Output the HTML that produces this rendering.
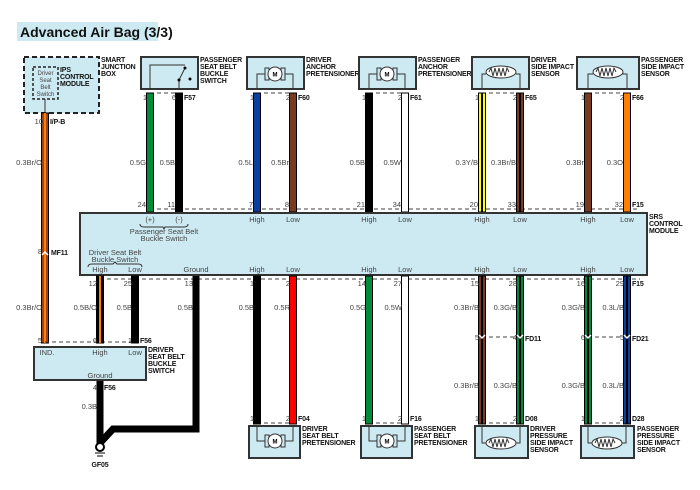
<!DOCTYPE html>
<html><head><meta charset="utf-8"><style>
html,body{margin:0;padding:0;background:#fff}
svg{display:block}
text{font-family:"Liberation Sans",sans-serif}
.s{font-size:7.5px;fill:#444}
.b{font-size:7px;font-weight:bold;fill:#111;letter-spacing:-0.15px}
.box{fill:#cdeaf2;stroke:#333;stroke-width:2}
.w{stroke:#000;stroke-width:1}
.d{stroke:#444;stroke-width:1;stroke-dasharray:4,3;fill:none}
.ln{stroke:#333;stroke-width:1;fill:none}
</style></head><body>
<svg width="700" height="490" viewBox="0 0 700 490" xmlns="http://www.w3.org/2000/svg">
<rect x="17" y="22" width="141" height="19" fill="#cdeaf2"/>
<text x="20" y="37" style="font-size:14px;font-weight:bold;fill:#111">Advanced Air Bag (3/3)</text>

<!-- Smart junction box -->
<rect x="24" y="57" width="75" height="56" fill="#cdeaf2" stroke="#222" stroke-width="2" stroke-dasharray="5,3"/>
<rect x="33" y="67" width="25" height="32" fill="none" stroke="#222" stroke-width="1.5" stroke-dasharray="3,2"/>
<text class="s" x="45.5" y="75" text-anchor="middle" style="font-size:6px">Driver</text>
<text class="s" x="45.5" y="82" text-anchor="middle" style="font-size:6px">Seat</text>
<text class="s" x="45.5" y="89" text-anchor="middle" style="font-size:6px">Belt</text>
<text class="s" x="45.5" y="96" text-anchor="middle" style="font-size:6px">Switch</text>
<text class="b" x="60" y="72">IPS</text><text class="b" x="60" y="79">CONTROL</text><text class="b" x="60" y="86">MODULE</text>
<text class="b" x="101" y="62">SMART</text><text class="b" x="101" y="69">JUNCTION</text><text class="b" x="101" y="76">BOX</text>
<path class="ln" d="M45 99 V113"/>

<!-- component boxes top -->
<rect class="box" x="141" y="57" width="57" height="32"/>
<path class="ln" d="M150 89 V65 H185 M179 89 V80 L185 68"/>
<circle cx="185" cy="68" r="1.5"/><circle cx="179" cy="80" r="1.5"/><circle cx="190" cy="79" r="1.5"/>
<text class="b" x="200" y="62">PASSENGER</text><text class="b" x="200" y="69">SEAT BELT</text><text class="b" x="200" y="76">BUCKLE</text><text class="b" x="200" y="83">SWITCH</text>

<g id="mot">
<rect class="box" x="247" y="57" width="57" height="32"/>
<path class="ln" d="M257 89 V74 H265 M293 89 V74 H285"/>
<rect x="265" y="68" width="4" height="12" fill="none" stroke="#333"/><rect x="281" y="68" width="4" height="12" fill="none" stroke="#333"/>
<circle cx="275" cy="74" r="7" fill="#fff" stroke="#333"/><text x="275" y="76.5" text-anchor="middle" style="font-size:6px;font-weight:bold">M</text>
</g>
<text class="b" x="306" y="62">DRIVER</text><text class="b" x="306" y="69">ANCHOR</text><text class="b" x="306" y="76">PRETENSIONER</text>
<use href="#mot" x="112" y="0"/>
<text class="b" x="418" y="62">PASSENGER</text><text class="b" x="418" y="69">ANCHOR</text><text class="b" x="418" y="76">PRETENSIONER</text>

<g id="sen">
<rect class="box" x="472" y="57" width="57" height="32"/>
<path class="ln" d="M482 89 V74 H486 M520 89 V74 H516"/>
<ellipse cx="501" cy="72" rx="15" ry="6" fill="#fff" stroke="#333"/>
<path class="ln" d="M489 72 l2 -4 l2 8 l2 -8 l2 8 l2 -8 l2 8 l2 -8 l2 8 l2 -8 l2 4"/>
</g>
<text class="b" x="531" y="62">DRIVER</text><text class="b" x="531" y="69">SIDE IMPACT</text><text class="b" x="531" y="76">SENSOR</text>
<rect class="box" x="577" y="57" width="62" height="32"/>
<path class="ln" d="M588 89 V74 H593 M627 89 V74 H622"/>
<ellipse cx="608" cy="72" rx="15" ry="6" fill="#fff" stroke="#333"/>
<path class="ln" d="M596 72 l2 -4 l2 8 l2 -8 l2 8 l2 -8 l2 8 l2 -8 l2 8 l2 -8 l2 4"/>
<text class="b" x="641" y="62">PASSENGER</text><text class="b" x="641" y="69">SIDE IMPACT</text><text class="b" x="641" y="76">SENSOR</text>

<!-- top dashed -->
<path class="d" d="M150 93 H179 M257 93 H293 M369 93 H405 M482 93 H520 M588 93 H627"/>
<path class="d" d="M150 209 H640"/>

<!-- top wires -->
<rect class="w" x="41.5" y="113" width="7" height="230" fill="#a0441a"/><rect x="44" y="113" width="2" height="230" fill="#ff7f00"/>
<rect class="w" x="146.5" y="93" width="7" height="119" fill="#008a3a"/>
<rect class="w" x="175.5" y="93" width="7" height="119" fill="#000"/>
<rect class="w" x="253.5" y="93" width="7" height="119" fill="#0a3fa0"/>
<rect class="w" x="289.5" y="93" width="7" height="119" fill="#7a3a22"/>
<rect class="w" x="365.5" y="93" width="7" height="119" fill="#000"/>
<rect class="w" x="401.5" y="93" width="7" height="119" fill="#fff"/>
<rect class="w" x="478.5" y="93" width="7" height="119" fill="#ffff00"/><rect x="481" y="93" width="2" height="119" fill="#000"/>
<rect class="w" x="516.5" y="93" width="7" height="119" fill="#7a3a22"/><rect x="519" y="93" width="2" height="119" fill="#000"/>
<rect class="w" x="584.5" y="93" width="7" height="119" fill="#7a3a22"/>
<rect class="w" x="623.5" y="93" width="7" height="119" fill="#ff7f00"/>

<!-- top pin labels -->
<g class="s" text-anchor="end">
<text x="43" y="124">10</text>
<text x="147" y="100">1</text><text x="176" y="100">6</text>
<text x="254" y="100">1</text><text x="290" y="100">2</text>
<text x="366" y="100">1</text><text x="402" y="100">2</text>
<text x="479" y="100">1</text><text x="517" y="100">2</text>
<text x="585" y="100">1</text><text x="624" y="100">2</text>
<text x="42" y="165">0.3Br/O</text>
<text x="146" y="165">0.5G</text><text x="175" y="165">0.5B</text>
<text x="253" y="165">0.5L</text><text x="289" y="165">0.5Br</text>
<text x="365" y="165">0.5B</text><text x="401" y="165">0.5W</text>
<text x="478" y="165">0.3Y/B</text><text x="516" y="165">0.3Br/B</text>
<text x="584" y="165">0.3Br</text><text x="623" y="165">0.3O</text>
<text x="146" y="207">24</text><text x="175" y="207">11</text>
<text x="253" y="207">7</text><text x="289" y="207">8</text>
<text x="365" y="207">21</text><text x="401" y="207">34</text>
<text x="478" y="207">20</text><text x="516" y="207">33</text>
<text x="584" y="207">19</text><text x="623" y="207">32</text>
</g>
<g class="b">
<text x="50" y="124">I/P-B</text><text x="184" y="100">F57</text><text x="298" y="100">F60</text><text x="410" y="100">F61</text>
<text x="525" y="100">F65</text><text x="632" y="100">F66</text><text x="632" y="207">F15</text>
</g>

<!-- SRS module -->
<rect class="box" x="80" y="213" width="567" height="62"/>
<text class="b" x="649" y="219">SRS</text><text class="b" x="649" y="226">CONTROL</text><text class="b" x="649" y="233">MODULE</text>
<g class="s" text-anchor="middle">
<text x="150" y="222">(+)</text><text x="179" y="222">(-)</text>
<text x="164" y="234">Passenger Seat Belt</text><text x="164" y="241">Buckle Switch</text>
<text x="257" y="222">High</text><text x="293" y="222">Low</text>
<text x="369" y="222">High</text><text x="405" y="222">Low</text>
<text x="482" y="222">High</text><text x="520" y="222">Low</text>
<text x="588" y="222">High</text><text x="627" y="222">Low</text>
<text x="115" y="255">Driver Seat Belt</text><text x="115" y="262">Buckle Switch</text>
<text x="100" y="272">High</text><text x="135" y="272">Low</text><text x="196" y="272">Ground</text>
<text x="257" y="272">High</text><text x="293" y="272">Low</text>
<text x="369" y="272">High</text><text x="405" y="272">Low</text>
<text x="482" y="272">High</text><text x="520" y="272">Low</text>
<text x="588" y="272">High</text><text x="627" y="272">Low</text>
</g>
<path class="ln" d="M140 224 q0 3 4 3 h19 l1 2 l1 -2 h19 q4 0 4 -3"/>
<path class="ln" d="M88 267 q0 -3 4 -3 h21 l2 -2 l2 2 h21 q4 0 4 3"/>

<!-- bottom dashed -->
<path class="d" d="M100 279 H640"/>
<path class="d" d="M45 342 H135"/>
<path class="d" d="M257 423 H293 M369 423 H405 M482 423 H520 M588 423 H627"/>
<path class="d" d="M482 337 H520 M588 337 H627"/>

<!-- bottom wires -->
<rect class="w" x="96.5" y="276" width="7" height="67" fill="#000"/><rect x="99" y="276" width="2" height="67" fill="#ff7f00"/>
<rect class="w" x="131.5" y="276" width="7" height="67" fill="#000"/>
<path d="M196 276 V429 H113 L100 443 V450 M100 380 V445" fill="none" stroke="#000" stroke-width="7"/>
<rect class="w" x="253.5" y="276" width="7" height="148" fill="#000"/>
<rect class="w" x="289.5" y="276" width="7" height="148" fill="#ff0000"/>
<rect class="w" x="365.5" y="276" width="7" height="148" fill="#008a3a"/>
<rect class="w" x="401.5" y="276" width="7" height="148" fill="#fff"/>
<rect class="w" x="478.5" y="276" width="7" height="148" fill="#7a3a22"/><rect x="481" y="276" width="2" height="148" fill="#000"/>
<rect class="w" x="516.5" y="276" width="7" height="148" fill="#008a3a"/><rect x="519" y="276" width="2" height="148" fill="#000"/>
<rect class="w" x="584.5" y="276" width="7" height="148" fill="#008a3a"/><rect x="587" y="276" width="2" height="148" fill="#000"/>
<rect class="w" x="623.5" y="276" width="7" height="148" fill="#0a3fa0"/><rect x="626" y="276" width="2" height="148" fill="#000"/>
<!-- connector chevrons -->
<g fill="none" stroke="#fff" stroke-width="1.5">
<path d="M479 335 l3 3 l3 -3 M517 335 l3 3 l3 -3 M585 335 l3 3 l3 -3 M624 335 l3 3 l3 -3 M42 255 l3 -3 l3 3"/>
</g>

<!-- ground -->
<circle cx="100" cy="447" r="4" fill="#fff" stroke="#000" stroke-width="2"/>
<path d="M95 453 H105 M97 456 H103" stroke="#000" stroke-width="1"/>
<text class="b" x="100" y="467" text-anchor="middle">GF05</text>

<!-- driver seat belt buckle switch -->
<rect class="box" x="34" y="347" width="112" height="33"/>
<g class="s" text-anchor="middle"><text x="47" y="355">IND.</text><text x="100" y="355">High</text><text x="135" y="355">Low</text><text x="100" y="378">Ground</text></g>
<text class="b" x="148" y="352">DRIVER</text><text class="b" x="148" y="359">SEAT BELT</text><text class="b" x="148" y="366">BUCKLE</text><text class="b" x="148" y="373">SWITCH</text>

<!-- bottom boxes -->
<g id="mot2">
<rect class="box" x="249" y="426" width="51" height="32"/>
<path class="ln" d="M257 426 V441 H265 M293 426 V441 H285"/>
<rect x="265" y="435" width="4" height="12" fill="none" stroke="#333"/><rect x="281" y="435" width="4" height="12" fill="none" stroke="#333"/>
<circle cx="275" cy="441" r="7" fill="#fff" stroke="#333"/><text x="275" y="443.5" text-anchor="middle" style="font-size:6px;font-weight:bold">M</text>
</g>
<use href="#mot2" x="112" y="0"/>
<text class="b" x="302" y="431">DRIVER</text><text class="b" x="302" y="438">SEAT BELT</text><text class="b" x="302" y="445">PRETENSIONER</text>
<text class="b" x="414" y="431">PASSENGER</text><text class="b" x="414" y="438">SEAT BELT</text><text class="b" x="414" y="445">PRETENSIONER</text>
<g id="sen2">
<rect class="box" x="475" y="426" width="53" height="32"/>
<path class="ln" d="M482 426 V443 H486 M520 426 V443 H516"/>
<ellipse cx="501" cy="443" rx="15" ry="6" fill="#fff" stroke="#333"/>
<path class="ln" d="M489 443 l2 -4 l2 8 l2 -8 l2 8 l2 -8 l2 8 l2 -8 l2 8 l2 -8 l2 4"/>
</g>
<use href="#sen2" x="106" y="0"/>
<text class="b" x="530" y="431">DRIVER</text><text class="b" x="530" y="438">PRESSURE</text><text class="b" x="530" y="445">SIDE IMPACT</text><text class="b" x="530" y="452">SENSOR</text>
<text class="b" x="637" y="431">PASSENGER</text><text class="b" x="637" y="438">PRESSURE</text><text class="b" x="637" y="445">SIDE IMPACT</text><text class="b" x="637" y="452">SENSOR</text>

<!-- bottom labels -->
<g class="s" text-anchor="end">
<text x="42" y="254">8</text><text x="42" y="310">0.3Br/O</text><text x="42" y="343">5</text>
<text x="97" y="286">12</text><text x="132" y="286">25</text><text x="193" y="286">13</text>
<text x="254" y="286">1</text><text x="290" y="286">2</text><text x="366" y="286">14</text><text x="402" y="286">27</text>
<text x="479" y="286">15</text><text x="517" y="286">28</text><text x="585" y="286">16</text><text x="624" y="286">29</text>
<text x="97" y="310">0.5B/O</text><text x="132" y="310">0.5B</text><text x="193" y="310">0.5B</text>
<text x="254" y="310">0.5B</text><text x="290" y="310">0.5R</text><text x="366" y="310">0.5G</text><text x="402" y="310">0.5W</text>
<text x="479" y="310">0.3Br/B</text><text x="517" y="310">0.3G/B</text><text x="585" y="310">0.3G/B</text><text x="624" y="310">0.3L/B</text>
<text x="97" y="343">6</text><text x="132" y="343">1</text>
<text x="479" y="340">5</text><text x="517" y="340">4</text><text x="585" y="340">6</text><text x="624" y="340">5</text>
<text x="479" y="388">0.3Br/B</text><text x="517" y="388">0.3G/B</text><text x="585" y="388">0.3G/B</text><text x="624" y="388">0.3L/B</text>
<text x="97" y="390">4</text><text x="97" y="409">0.3B</text>
<text x="254" y="421">1</text><text x="290" y="421">2</text><text x="366" y="421">1</text><text x="402" y="421">2</text>
<text x="479" y="421">1</text><text x="517" y="421">2</text><text x="585" y="421">1</text><text x="624" y="421">2</text>
</g>
<g class="b">
<text x="51" y="255">MF11</text><text x="140" y="343">F56</text><text x="104" y="390">F56</text>
<text x="632" y="286">F15</text><text x="525" y="341">FD11</text><text x="632" y="341">FD21</text>
<text x="298" y="421">F04</text><text x="410" y="421">F16</text><text x="525" y="421">D08</text><text x="632" y="421">D28</text>
</g>
</svg>
</body></html>
